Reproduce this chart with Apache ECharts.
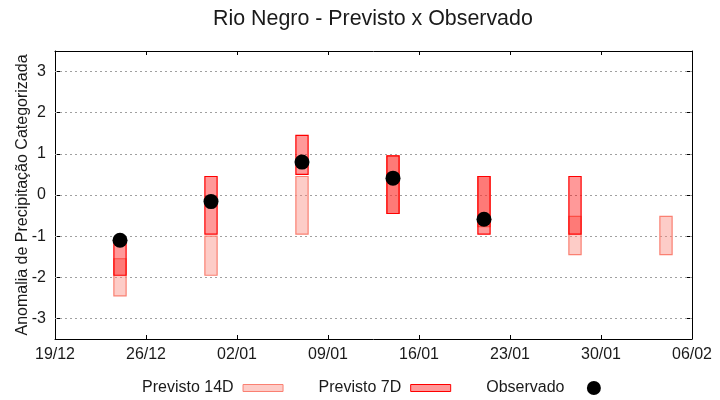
<!DOCTYPE html>
<html>
<head>
<meta charset="utf-8">
<script src="https://cdn.jsdelivr.net/npm/echarts@6/dist/echarts.min.js"></script>
<style>
html,body{margin:0;padding:0;background:#fff;}
#chart{width:720px;height:400px;}
</style>
</head>
<body>
<div id="chart"></div>
<script>
// ---- data ----
const startDate = '2023-12-19';
const forecastDates = ['2023-12-24','2023-12-31','2024-01-07','2024-01-14','2024-01-21','2024-01-28','2024-02-04'];
const prev14Low  = [-2.45, -1.95, -0.95, -0.45, -0.77, -1.45, -1.45];
const prev14High = [-1.55, -1.00,  0.45,  0.95,  0.45, -0.52, -0.52];
const prev7Low   = [-1.95, -0.95,  0.50, -0.45, -0.95, -0.95, null];
const prev7High  = [-1.17,  0.45,  1.45,  0.95,  0.45,  0.45, null];
const observed   = [-1.10, -0.16,  0.80,  0.41, -0.59, null, null];
const xTickLabels = ['19/12','26/12','02/01','09/01','16/01','23/01','30/01','06/02'];
const yTickValues = [-3, -2, -1, 0, 1, 2, 3];
const seriesNames = ['Previsto 14D','Previsto 7D','Observado'];
const titleText = 'Rio Negro - Previsto x Observado';
const yAxisTitle = 'Anomalia de Precipitação Categorizada';

const DAY = 86400000;
const dayOffset = d => (Date.parse(d) - Date.parse(startDate)) / DAY;

const data14 = forecastDates.map((d, i) => [dayOffset(d), prev14Low[i], prev14High[i]]);
const data7 = forecastDates.map((d, i) => prev7Low[i] == null ? null : [dayOffset(d), prev7Low[i], prev7High[i]]).filter(Boolean);
const dataObs = forecastDates.map((d, i) => observed[i] == null ? null : [dayOffset(d), observed[i]]).filter(Boolean);

const FONT = "'Liberation Sans', Arial, sans-serif";
const TXT = '#1a1a1a';

function boxRenderer(fill, stroke) {
  return function (params, api) {
    const x = api.value(0), lo = api.value(1), hi = api.value(2);
    const p1 = api.coord([x - 0.47, hi]);
    const p2 = api.coord([x + 0.47, lo]);
    return {
      type: 'rect',
      shape: { x: p1[0], y: p1[1], width: p2[0] - p1[0], height: p2[1] - p1[1] },
      style: { fill: fill, stroke: stroke, lineWidth: 1.2 }
    };
  };
}

const fill14 = 'rgba(250,128,114,0.4)', stroke14 = 'rgb(250,128,114)';
const fill7 = 'rgba(255,0,0,0.4)', stroke7 = 'rgb(255,0,0)';

const chart = echarts.init(document.getElementById('chart'), null, { renderer: 'canvas' });
chart.setOption({
  animation: false,
  backgroundColor: '#fff',
  textStyle: { fontFamily: FONT, color: TXT },
  title: {
    text: titleText, left: 208, top: 4,
    textStyle: { fontFamily: FONT, fontSize: 21.4, fontWeight: 'normal', color: TXT }
  },
  grid: { left: 55, right: 28, top: 51, bottom: 61 },
  legend: {
    left: 137, top: 375, align: 'right', itemWidth: 40, itemHeight: 14, itemGap: 35,
    symbolKeepAspect: true,
    formatter: name => name + ' ',
    textStyle: { fontFamily: FONT, fontSize: 16, color: TXT },
    data: [
      { name: seriesNames[0], icon: 'path://M0,0 L40,0 L40,7 L0,7 Z', itemStyle: { color: fill14, borderColor: stroke14, borderWidth: 1 } },
      { name: seriesNames[1], icon: 'path://M0,0 L40,0 L40,7 L0,7 Z', itemStyle: { color: fill7, borderColor: stroke7, borderWidth: 1 } },
      { name: seriesNames[2], icon: 'circle', itemStyle: { color: '#000', opacity: 1 } }
    ]
  },
  xAxis: [
    {
      type: 'value', min: 0, max: 49, interval: 7, position: 'bottom',
      axisLine: { show: true, onZero: false, lineStyle: { color: '#000', width: 1 } },
      axisTick: { show: true, inside: true, length: 4, lineStyle: { color: '#000' } },
      axisLabel: { fontFamily: FONT, fontSize: 16, color: TXT, margin: 8,
        formatter: v => xTickLabels[Math.round(v / 7)] },
      splitLine: { show: false }
    },
    {
      type: 'value', min: 0, max: 49, interval: 7, position: 'top',
      axisLine: { show: true, onZero: false, lineStyle: { color: '#000', width: 1 } },
      axisTick: { show: true, inside: true, length: 4, lineStyle: { color: '#000' } },
      axisLabel: { show: false }, splitLine: { show: false }
    }
  ],
  yAxis: [
    {
      type: 'value', min: -3.5, max: 3.5, position: 'left',
      name: yAxisTitle, nameLocation: 'middle', nameGap: 24, nameRotate: 90,
      nameMoveOverlap: false,
      nameTextStyle: { fontFamily: FONT, fontSize: 16, color: TXT },
      axisLine: { show: true, onZero: false, lineStyle: { color: '#000', width: 1 } },
      axisTick: { show: true, inside: true, length: 5, customValues: yTickValues, lineStyle: { color: '#000' } },
      axisLabel: { fontFamily: FONT, fontSize: 16, color: TXT, margin: 9, customValues: yTickValues,
        formatter: v => String(v) },
      splitLine: { show: false }
    },
    {
      type: 'value', min: -3.5, max: 3.5, position: 'right',
      axisLine: { show: true, onZero: false, lineStyle: { color: '#000', width: 1 } },
      axisTick: { show: true, inside: true, length: 5, customValues: yTickValues, lineStyle: { color: '#000' } },
      axisLabel: { show: false }, splitLine: { show: false }
    }
  ],
  series: [
    { name: seriesNames[0], type: 'custom', xAxisIndex: 0, yAxisIndex: 0,
      renderItem: boxRenderer(fill14, stroke14), encode: { x: 0, y: [1, 2] },
      itemStyle: { color: fill14 }, data: data14, z: 3 },
    { name: seriesNames[1], type: 'custom', xAxisIndex: 0, yAxisIndex: 0,
      renderItem: boxRenderer(fill7, stroke7), encode: { x: 0, y: [1, 2] },
      itemStyle: { color: fill7 }, data: data7, z: 4 },
    { name: seriesNames[2], type: 'scatter', xAxisIndex: 0, yAxisIndex: 0,
      symbol: 'circle', symbolSize: 15, itemStyle: { color: '#000', opacity: 1 },
      data: dataObs, z: 5,
      markLine: {
        silent: true, symbol: 'none', z: 1, label: { show: false },
        lineStyle: { color: '#a0a0a0', type: [2, 3], width: 1 },
        emphasis: { disabled: true },
        data: yTickValues.map(v => ({ yAxis: v }))
      }
    }
  ]
});
</script>
</body>
</html>
